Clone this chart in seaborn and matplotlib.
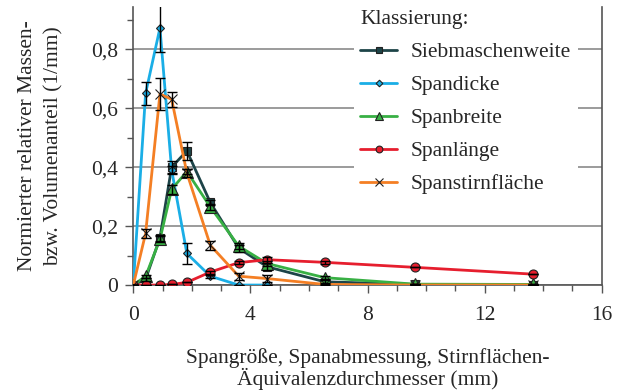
import numpy as np
import pandas as pd
import seaborn as sns
import matplotlib
matplotlib.use("Agg")
import matplotlib.pyplot as plt
from matplotlib.ticker import MultipleLocator, FuncFormatter

# ---------------- data ----------------
x_pos = [0, 0.42, 0.91, 1.31, 1.83, 2.63, 3.6, 4.57, 6.54, 9.62, 13.64]

sieb = [0, 0.02, 0.16, 0.40, 0.455, 0.28, 0.125, 0.062, 0.011, 0.002, 0.001]
sieb_err = [0, 0.005, 0.01, 0.02, 0.03, 0.01, 0.012, 0.012, 0.005, 0, 0]

dicke_x = [0, 0.42, 0.91, 1.31, 1.83, 2.63, 3.6, 4.57]
dicke = [0, 0.65, 0.872, 0.39, 0.107, 0.03, 0, 0]
dicke_err = [0, 0.04, 0.08, 0.015, 0.034, 0.005, 0, 0]

breite = [0, 0.03, 0.155, 0.325, 0.385, 0.265, 0.132, 0.073, 0.025, 0.003, 0.002]
breite_err = [0, 0.005, 0.01, 0.015, 0.01, 0.01, 0.01, 0.01, 0.005, 0, 0]

laenge = [0, 0, 0, 0.002, 0.009, 0.044, 0.076, 0.086, 0.077, 0.06, 0.037]
laenge_err = [0, 0, 0, 0, 0, 0.005, 0.005, 0.01, 0.005, 0, 0]

stirn = [0, 0.175, 0.648, 0.63, 0.38, 0.135, 0.03, 0.022, 0.002, 0, 0]
stirn_err = [0, 0.015, 0.055, 0.025, 0.015, 0.015, 0.012, 0.012, 0.003, 0, 0]

names = ["Siebmaschenweite", "Spandicke", "Spanbreite", "Spanlänge", "Spanstirnfläche"]
colors = ["#1d4448", "#1aaee6", "#38b044", "#e61e2e", "#f47f24"]
markers = ["s", "D", "^", "o", "x"]
msizes = [6, 4.5, 8, 6.5, 7]

series = [
    (x_pos, sieb, sieb_err),
    (dicke_x, dicke, dicke_err),
    (x_pos, breite, breite_err),
    (x_pos, laenge, laenge_err),
    (x_pos, stirn, stirn_err),
]

# ---------------- figure ----------------
sns.set_style("white")
plt.rcParams["font.family"] = ["Liberation Serif", "DejaVu Serif"]
plt.rcParams["mathtext.fontset"] = "stix"

FS = 15.5

fig = plt.figure(figsize=(6.3, 3.91), dpi=100)
ax = fig.add_axes([0.2116, 0.271, 0.7435, 0.711])

for (xs, ys, es), name, col, mk, ms in zip(series, names, colors, markers, msizes):
    df = pd.DataFrame({"x": xs, "y": ys})
    sns.lineplot(data=df, x="x", y="y", ax=ax, color=col, lw=2.0, sort=False,
                 marker=mk, markersize=ms, markerfacecolor=col if mk != "x" else "black",
                 markeredgecolor="#222222", markeredgewidth=0.8, label=name,
                 estimator=None, zorder=3)
    ax.errorbar(xs, ys, yerr=es, fmt="none", ecolor="black", elinewidth=1.0,
                capsize=3.5, capthick=1.0, zorder=4)

ax.set_xlim(0, 16)
ax.set_ylim(0, 0.943)
ax.xaxis.set_major_locator(MultipleLocator(4))
ax.xaxis.set_minor_locator(MultipleLocator(1))
ax.yaxis.set_major_locator(MultipleLocator(0.2))
ax.yaxis.set_minor_locator(MultipleLocator(0.1))
ax.yaxis.set_major_formatter(FuncFormatter(lambda v, p: "0" if abs(v) < 1e-9 else f"{v:.1f}".replace(".", ",")))
ax.xaxis.set_major_formatter(FuncFormatter(lambda v, p: f"{int(round(v))}"))

ax.grid(axis="y", which="major", color="#808080", lw=1.1, zorder=0)
ax.set_axisbelow(True)
ax.tick_params(axis="y", which="major", direction="out", length=6, width=1,
               labelsize=FS, color="#555555", pad=5, left=True)
ax.tick_params(axis="x", which="major", direction="out", length=6, width=1,
               labelsize=FS, color="#555555", pad=9, bottom=True)
ax.tick_params(axis="both", which="minor", direction="out", length=4, width=1,
               color="#555555", left=True, bottom=True)
for s in ["left", "bottom", "right"]:
    ax.spines[s].set_visible(True)
    ax.spines[s].set_color("#555555")
    ax.spines[s].set_linewidth(1.2)
ax.spines["top"].set_visible(False)

ax.set_xlabel("Spangröße, Spanabmessung, Stirnflächen-\nÄquivalenzdurchmesser (mm)",
              fontsize=FS, labelpad=17, linespacing=1.0)
ax.set_ylabel("Normierter relativer Massen-\nbzw. Volumenanteil (1/mm)",
              fontsize=FS, labelpad=20, linespacing=1.45)

handles, labels = ax.get_legend_handles_labels()
leg = ax.legend(handles, labels, title="Klassierung:", loc="upper left",
                bbox_to_anchor=(0.448, 1.05), frameon=True, facecolor="white",
                edgecolor="none", framealpha=1.0, fontsize=FS, title_fontsize=FS,
                alignment="left", handlelength=1.7, handletextpad=0.65,
                labelspacing=0.6, markerscale=0.75, borderpad=0.3)
leg.set_zorder(10)

fig.savefig("out.png", dpi=100)
